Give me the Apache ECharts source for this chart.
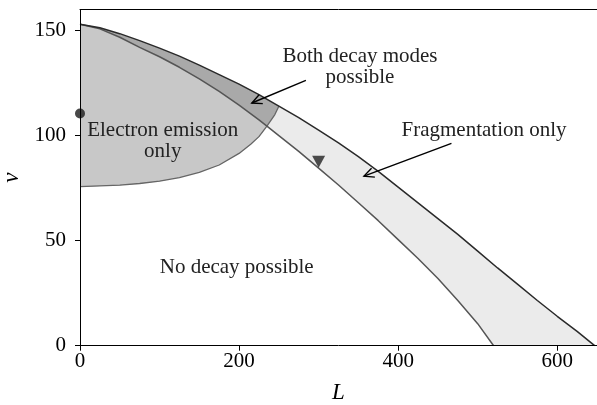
<!DOCTYPE html>
<html><head><meta charset="utf-8">
<script src="https://cdn.jsdelivr.net/npm/echarts@6/dist/echarts.min.js"></script>
<style>html,body{margin:0;padding:0;background:#fff}#c{width:597px;height:405px}</style>
</head><body><div id="c"></div>
<script>
// Outer boundary of the fragmentation region
const outerL = [0,25,50,75,100,125,150,175,200,225,250,275,300,325,350,375,400,425,450,475,500,525,550,575,600,625,647];
const outerV = [153,151.3,148.5,145.2,141.6,137.8,133.5,129,124.5,119.5,114,108.5,102.6,96.5,90,83,75.5,68,60.5,53,45,37,29.3,21.5,14,6.8,0];
// Inner boundary of the fragmentation region
const innerL = [0,25,50,75,100,125,150,175,200,225,235,250,275,300,325,350,375,400,425,450,475,500,520];
const innerV = [153,150.8,146.8,142,137.5,132.5,127,121,114.5,107.5,104.5,100,92.5,84.5,76.5,68,59.5,50.5,41.5,32,21.5,10.5,0];
// Lower/right boundary of the electron emission region
const edgeL = [0,50,75,100,125,150,175,200,215,225,235,245,250];
const edgeV = [75.7,76.4,77.2,78.3,80,82.5,86,91.5,96,99.5,104.5,110,114];
// Markers
const dotPts = [[0,110.5]];
const triPts = [[300,87.5]];
// Tick labels
const xTicks = [0,200,400,600];
const yTicks = [0,50,100,150];

const FONT = '"Liberation Serif", "DejaVu Serif", serif';
const zip = (a,b) => a.map((x,i)=>[x,b[i]]);
const outer = zip(outerL, outerV), inner = zip(innerL, innerV), edge = zip(edgeL, edgeV);

const fragPoly = outer.concat(inner.slice().reverse());
const emitPoly = outer.filter(p=>p[0]<=250).concat(edge.slice().reverse());
const elecPoly = inner.filter(p=>p[0]<=235).concat(edge.filter(p=>p[0]<=235).reverse());

function polySeries(pts, fill, z) {
  return { type:'custom', coordinateSystem:'cartesian2d', data:[[0,0]], z:z, silent:true, clip:true,
    renderItem:(params, api) => ({ type:'polygon', shape:{points: pts.map(p=>api.coord(p))}, style:{fill:fill, stroke:null} }) };
}
function lineSeries(pts, color, width, z) {
  return { type:'line', data:pts, showSymbol:false, symbol:'none', z:z, silent:true,
    lineStyle:{color:color, width:width}, animation:false };
}

const texts = [
  {pos:[352,132.5], text:'Both decay modes\npossible'},
  {pos:[508,102.5], text:'Fragmentation only'},
  {pos:[104,97.5], text:'Electron emission\nonly'},
  {pos:[197,37], text:'No decay possible'}
];
const arrows = [
  {from:[284,126.3], to:[216,115.5]},
  {from:[467,96.3], to:[357,80.7]}
];

const annotSeries = { type:'custom', coordinateSystem:'cartesian2d', data:[[0,0]], z:20, silent:true, clip:false,
  renderItem:(params, api) => {
    const children = [];
    texts.forEach(t => {
      const c = api.coord(t.pos);
      children.push({type:'text', x:c[0], y:c[1], style:{text:t.text, font:'21px ' + FONT, fill:'#222', align:'center', verticalAlign:'middle', lineHeight:21}});
    });
    arrows.forEach(a => {
      const p0 = api.coord(a.from), p1 = api.coord(a.to);
      const dx = p0[0]-p1[0], dy = p0[1]-p1[1], len = Math.hypot(dx,dy);
      const ux = dx/len, uy = dy/len, L = 11, ang = 0.45;
      const r = (x,y,t)=>[x*Math.cos(t)-y*Math.sin(t), x*Math.sin(t)+y*Math.cos(t)];
      const a1 = r(ux,uy,ang), a2 = r(ux,uy,-ang);
      children.push({type:'line', shape:{x1:p0[0],y1:p0[1],x2:p1[0],y2:p1[1]}, style:{stroke:'#000', lineWidth:1.4}});
      children.push({type:'polyline', shape:{points:[[p1[0]+a1[0]*L,p1[1]+a1[1]*L],[p1[0],p1[1]],[p1[0]+a2[0]*L,p1[1]+a2[1]*L]]}, style:{stroke:'#000', lineWidth:1.4, fill:null}});
    });
    return {type:'group', children:children};
  } };

const chart = echarts.init(document.getElementById('c'), null, {renderer:'canvas'});
chart.setOption({
  animation:false,
  backgroundColor:'#fff',
  grid:{left:80, right:0, top:9.5, bottom:59.3, outerBoundsMode:'none'},
  xAxis:[{type:'value', min:0, max:650, interval:200, position:'bottom', z:10,
    axisLine:{show:true, onZero:false, lineStyle:{color:'#000', width:1}},
    axisTick:{show:true, inside:false, length:5, customValues:xTicks, lineStyle:{color:'#000'}},
    axisLabel:{customValues:xTicks, color:'#000', fontFamily:FONT, fontSize:21, margin:5},
    splitLine:{show:false},
    name:'L', nameLocation:'middle', nameGap:36,
    nameTextStyle:{fontFamily:FONT, fontStyle:'italic', fontSize:23, color:'#000'}},
   {type:'value', min:0, max:650, position:'top', z:10,
    axisLine:{show:true, onZero:false, lineStyle:{color:'#000', width:1}},
    axisTick:{show:false}, axisLabel:{show:false}, splitLine:{show:false}}],
  yAxis:{type:'value', min:0, max:160, interval:50, z:10,
    axisLine:{show:true, onZero:false, lineStyle:{color:'#000', width:1}},
    axisTick:{show:true, inside:false, length:5, customValues:yTicks, lineStyle:{color:'#000'}},
    axisLabel:{customValues:yTicks, color:'#000', fontFamily:FONT, fontSize:21, margin:14},
    splitLine:{show:false},
    name:'v', nameLocation:'middle', nameGap:55,
    nameTextStyle:{fontFamily:FONT, fontStyle:'italic', fontSize:23, color:'#000'}},
  series:[
    polySeries(fragPoly, '#ebebeb', 1),
    polySeries(emitPoly, '#a9a9a9', 2),
    polySeries(elecPoly, '#c8c8c8', 3),
    lineSeries(edge, '#666', 1.3, 5),
    lineSeries(inner, '#555', 1.5, 6),
    lineSeries(outer, '#2a2a2a', 1.5, 7),
    {type:'scatter', data:dotPts, symbol:'circle', symbolSize:10, z:8, itemStyle:{color:'#1a1a1a'}, silent:true},
    {type:'scatter', data:triPts, symbol:'triangle', symbolRotate:180, symbolSize:[13,12], z:8, itemStyle:{color:'#222'}, silent:true},
    annotSeries
  ]
});
</script></body></html>
